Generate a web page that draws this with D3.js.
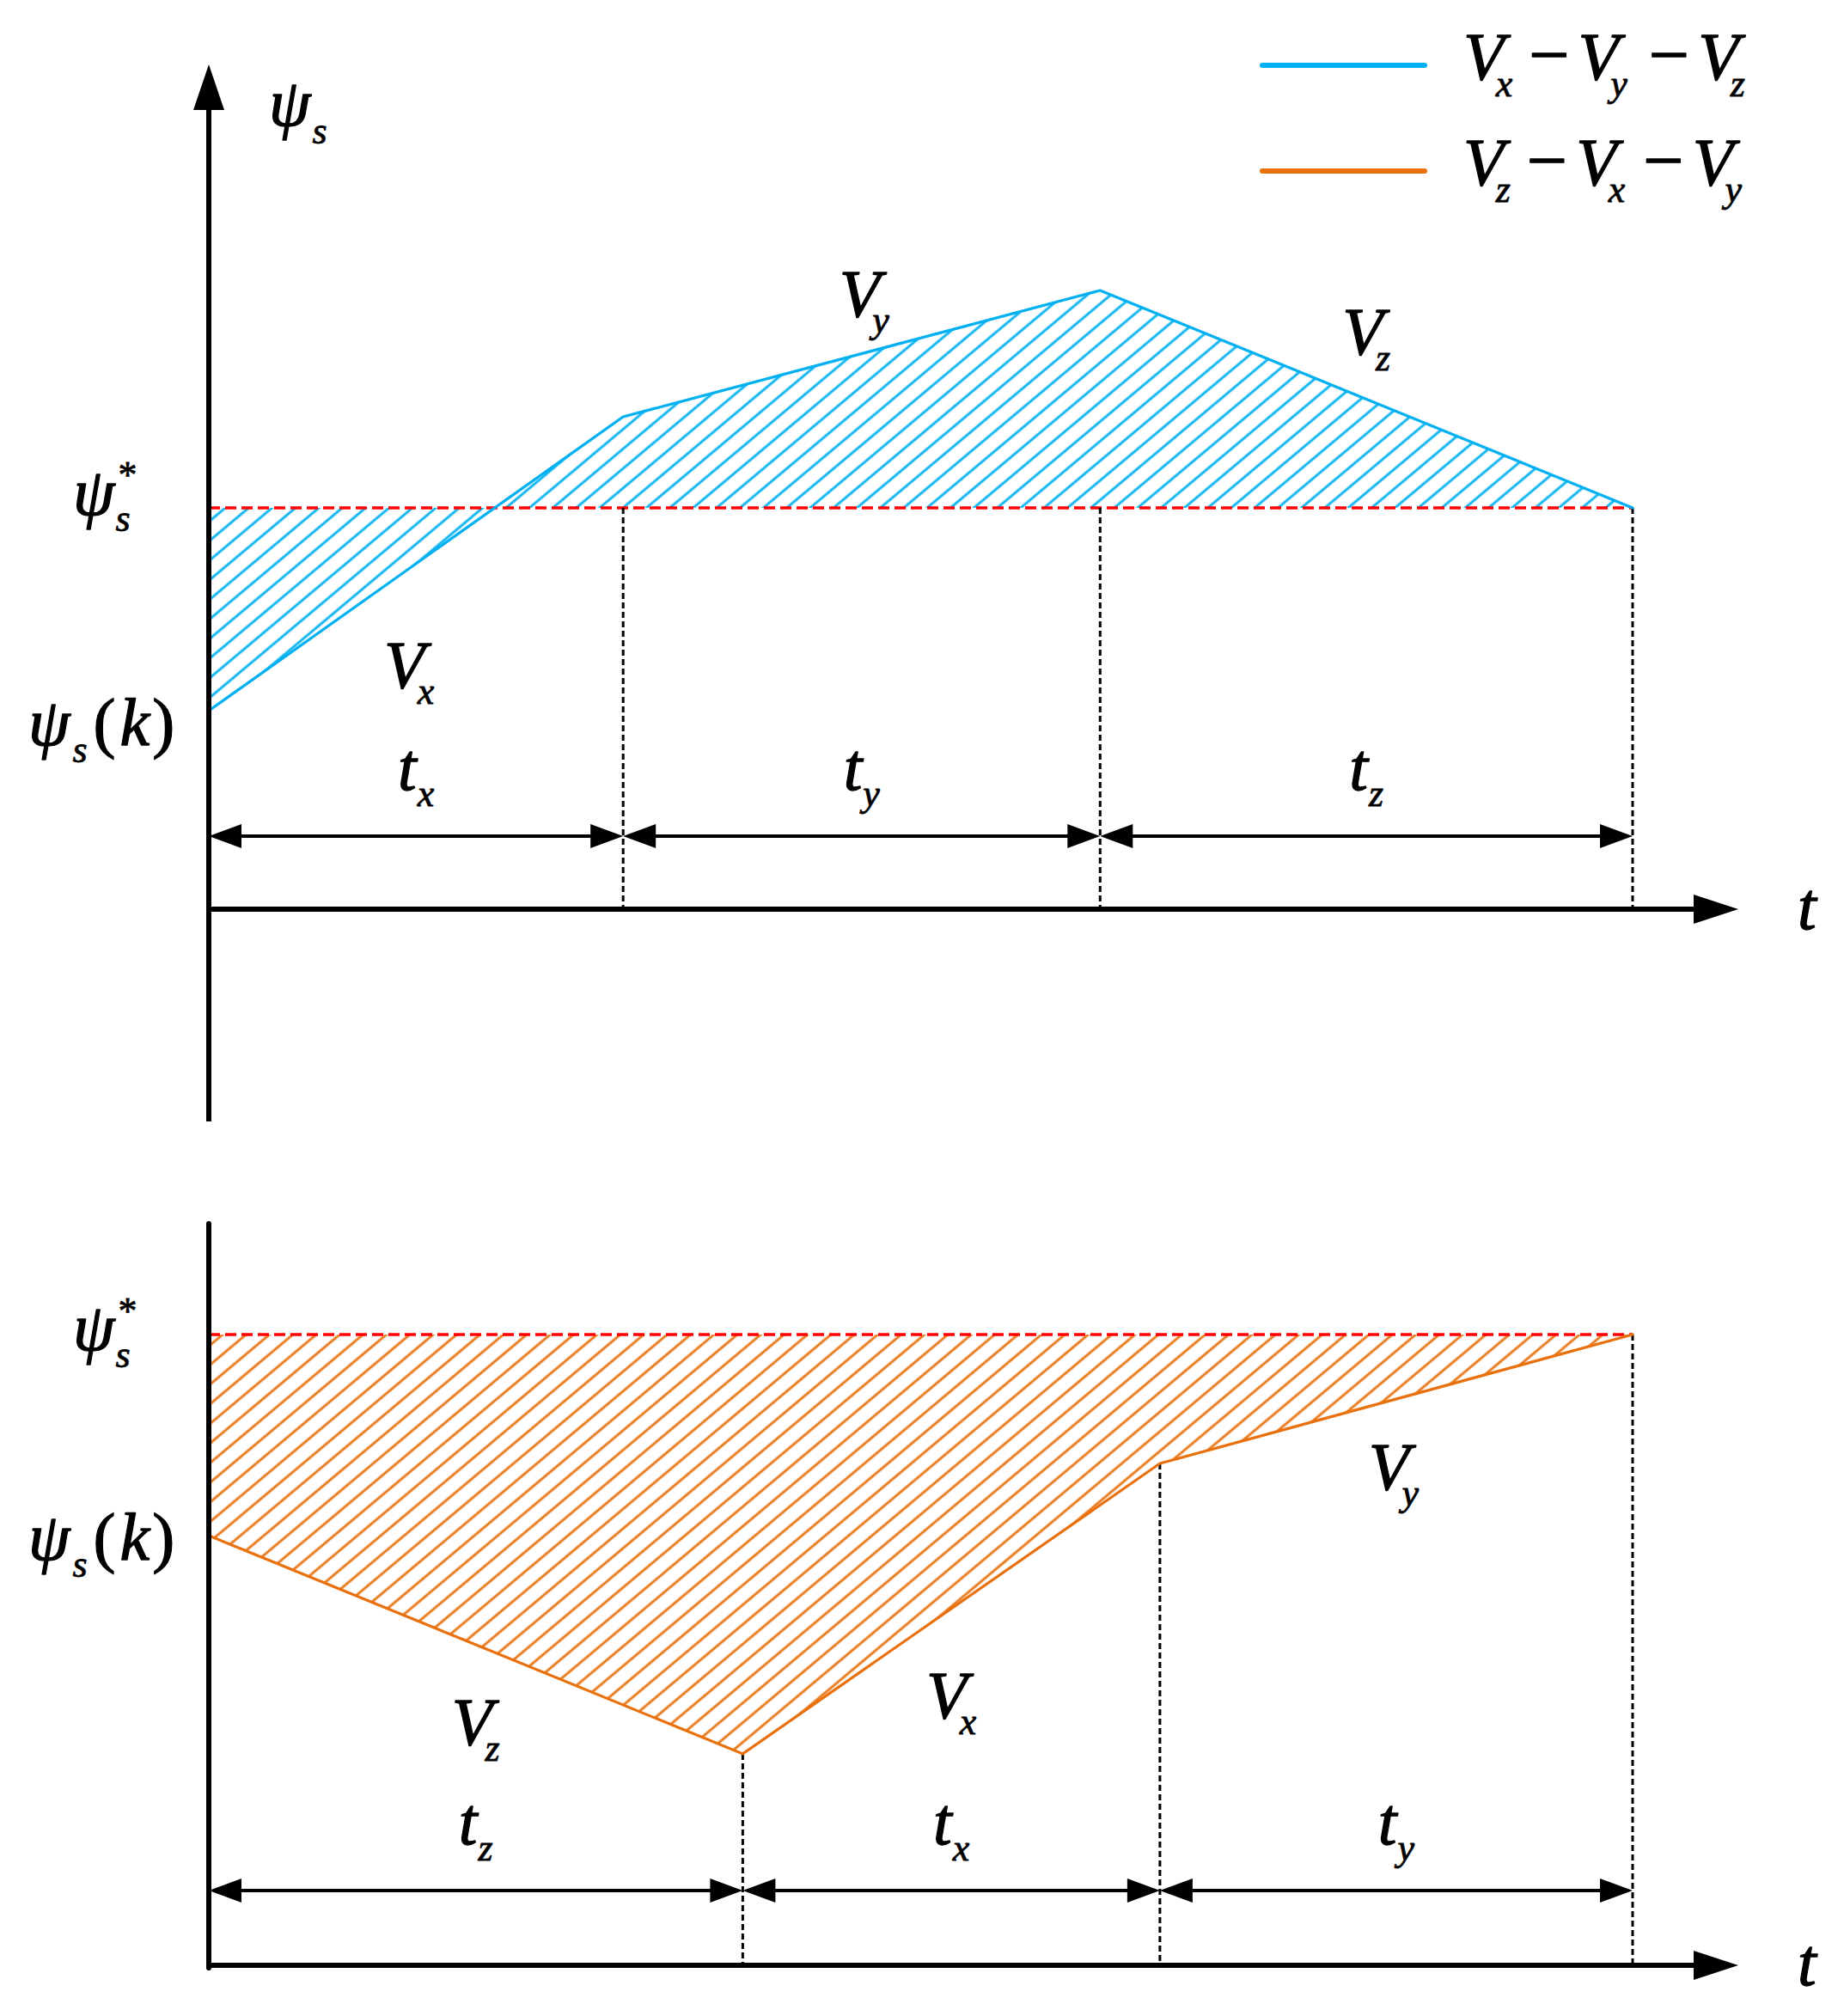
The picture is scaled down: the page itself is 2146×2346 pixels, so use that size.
<!DOCTYPE html>
<html><head><meta charset="utf-8">
<script src="https://cdn.jsdelivr.net/npm/d3@7"></script>
<style>body{margin:0;background:#fff} svg{display:block}</style>
</head><body><svg id="c" width="2146" height="2346"></svg>
<script>
// ---------------- data ----------------
const timeDomain = [0, 100];                 // one switching period, in %
const topSubs = ["x", "y", "z"];             // vector order Vx - Vy - Vz
const topBreaks = [0, 29.1, 62.6, 100];      // segment boundaries (time)
const topFlux = [0, 1.449, 2.072, 1.0];      // flux at boundaries (ψs(k)=0, ψs*=1)
const bottomSubs = ["z", "x", "y"];          // vector order Vz - Vx - Vy
const bottomBreaks = [0, 37.5, 66.8, 100];
const bottomFlux = [0, -1.085, 0.359, 1.0];
const fluxRef = 1.0;                          // ψs*
const fluxStart = 0.0;                        // ψs(k)
const seriesColors = ["#00B0F0", "#E8710E"];

// ---------------- layout ----------------
const W = 2146, H = 2346;
const FONT = '"Liberation Serif","Times New Roman",serif';
const svg = d3.select("#c");
svg.append("rect").attr("width", W).attr("height", H).attr("fill", "#fff");

const x = d3.scaleLinear().domain(timeDomain).range([243, 1900]);
const axisX = 243, arrowTipX = 2023;

const panels = [
  { subs: topSubs, breaks: topBreaks, flux: topFlux, color: seriesColors[0], id: "hb",
    yRange: [827, 591], xAxisY: 1058, arrowY: 973, yTop: 75, yArrow: true, yBottom: 1305,
    vLabelY: [800, 368, 412], vLabelDx: [-8, 3, 0],
    refBase: 599, refSub: 19, refStar: -32, startBase: 867 },
  { subs: bottomSubs, breaks: bottomBreaks, flux: bottomFlux, color: seriesColors[1], id: "ho",
    yRange: [1787, 1553], xAxisY: 2287, arrowY: 2200, yTop: 1424, yArrow: false, yBottom: 2290,
    vLabelY: [2030, 1999, 1733], vLabelDx: [0, 0, -3],
    refBase: 1571, refSub: 20, refStar: -31, startBase: 1815 }
];

// hatch patterns
const defs = svg.append("defs");
panels.forEach(p => {
  const pat = defs.append("pattern").attr("id", p.id)
    .attr("patternUnits", "userSpaceOnUse").attr("width", 40).attr("height", 17.5)
    .attr("patternTransform", "rotate(-40)");
  pat.append("line").attr("x1", -5).attr("x2", 45).attr("y1", 8.75).attr("y2", 8.75)
    .attr("stroke", p.color).attr("stroke-width", 3).attr("opacity", 0.95);
});

function mathText(g, px, py, parts, anchor) {
  const t = g.append("text").attr("x", px).attr("y", py)
    .attr("text-anchor", anchor || "start")
    .attr("font-family", FONT).attr("font-style", "italic")
    .attr("font-size", 78).attr("fill", "#000")
    .attr("stroke", "#000").attr("stroke-width", 1.3).attr("stroke-linejoin", "round");
  let cur = 0;
  parts.forEach(pt => {
    const ts = t.append("tspan").text(pt.t);
    const off = pt.off || 0;
    if (off - cur !== 0) ts.attr("dy", off - cur);
    cur = off;
    if (pt.dx) ts.attr("dx", pt.dx);
    if (pt.size) ts.attr("font-size", pt.size);
    if (pt.size && pt.size < 60) ts.attr("stroke-width", 0.8);
    if (pt.upright) ts.attr("font-style", "normal");
  });
  return t;
}

panels.forEach(p => {
  const y = d3.scaleLinear().domain([fluxStart, fluxRef]).range(p.yRange);
  const pts = p.breaks.map((b, i) => ({ t: b, v: p.flux[i] }));
  const g = svg.append("g");

  g.append("path").datum(pts)
    .attr("d", d3.area().x(d => x(d.t)).y0(y(fluxRef)).y1(d => y(d.v)))
    .attr("fill", `url(#${p.id})`);

  g.append("line").attr("x1", x(timeDomain[0])).attr("x2", x(timeDomain[1]))
    .attr("y1", y(fluxRef)).attr("y2", y(fluxRef))
    .attr("stroke", "#FF0000").attr("stroke-width", 3.5).attr("stroke-dasharray", "13,6");

  p.breaks.slice(1).forEach((b, i) => {
    const v = p.flux[i + 1];
    g.append("line").attr("x1", x(b)).attr("x2", x(b))
      .attr("y1", Math.max(y(fluxRef), y(v))).attr("y2", p.xAxisY)
      .attr("stroke", "#000").attr("stroke-width", 3).attr("stroke-dasharray", "7,4");
  });

  g.append("path").datum(pts)
    .attr("d", d3.line().x(d => x(d.t)).y(d => y(d.v)))
    .attr("fill", "none").attr("stroke", p.color).attr("stroke-width", 3.2)
    .attr("stroke-linejoin", "round").attr("stroke-linecap", "round");

  g.append("line").attr("x1", axisX).attr("x2", axisX)
    .attr("y1", p.yArrow ? p.yTop + 50 : p.yTop).attr("y2", p.yBottom)
    .attr("stroke", "#000").attr("stroke-width", 6).attr("stroke-linecap", p.yArrow ? "butt" : "round");
  if (p.yArrow) {
    g.append("path").attr("d", `M${axisX},${p.yTop} L${axisX - 18},${p.yTop + 53} L${axisX + 18},${p.yTop + 53} Z`)
      .attr("fill", "#000");
  }
  g.append("line").attr("x1", axisX - 3).attr("x2", arrowTipX - 48)
    .attr("y1", p.xAxisY).attr("y2", p.xAxisY).attr("stroke", "#000").attr("stroke-width", 6);
  g.append("path").attr("d", `M${arrowTipX},${p.xAxisY} L${arrowTipX - 52},${p.xAxisY - 17} L${arrowTipX - 52},${p.xAxisY + 17} Z`)
    .attr("fill", "#000");
  mathText(g, 2092, p.xAxisY + 23, [{ t: "t" }]);

  p.subs.forEach((s, i) => {
    const x0 = x(p.breaks[i]), x1 = x(p.breaks[i + 1]), ay = p.arrowY;
    g.append("line").attr("x1", x0 + 30).attr("x2", x1 - 30).attr("y1", ay).attr("y2", ay)
      .attr("stroke", "#000").attr("stroke-width", 4);
    g.append("path").attr("d", `M${x0},${ay} L${x0 + 38},${ay - 14} L${x0 + 38},${ay + 14} Z`).attr("fill", "#000");
    g.append("path").attr("d", `M${x1},${ay} L${x1 - 38},${ay - 14} L${x1 - 38},${ay + 14} Z`).attr("fill", "#000");
    const mid = (x0 + x1) / 2;
    mathText(g, mid, ay - 54, [{ t: "t" }, { t: s, off: 19, size: 44, dx: 1 }], "middle");
    mathText(g, mid + p.vLabelDx[i], p.vLabelY[i], [{ t: "V" }, { t: s, off: 19, size: 44, dx: -9 }], "middle");
  });

  mathText(g, 85, p.refBase, [{ t: "ψ" }, { t: "s", off: p.refSub, size: 44, dx: 1 },
    { t: "*", off: p.refStar, size: 44, dx: -14, upright: true }]);
  mathText(g, 33, p.startBase, [{ t: "ψ" }, { t: "s", off: 20, size: 44, dx: 3 },
    { t: "(", off: 0, upright: true, dx: 7 }, { t: "k", dx: 5 }, { t: ")", upright: true, dx: 3 }]);
});

mathText(svg, 313, 146, [{ t: "ψ" }, { t: "s", off: 21, size: 44, dx: 2 }]);

const legend = svg.append("g");
[topSubs, bottomSubs].forEach((seq, i) => {
  const ly = [76, 199][i];
  legend.append("line").attr("x1", 1469).attr("x2", 1658).attr("y1", ly).attr("y2", ly)
    .attr("stroke", seriesColors[i]).attr("stroke-width", 6).attr("stroke-linecap", "round");
  const parts = [];
  seq.forEach((s, k) => {
    if (k > 0) parts.push({ t: "\u2212", off: 0, size: 84, upright: true,
                            dx: k === 1 ? 19 : (i === 0 ? 25 : 21) });
    parts.push({ t: "V", off: 0, dx: k > 0 ? 10 : 0 });
    parts.push({ t: s, off: 20, size: 44, dx: -10 });
  });
  mathText(legend, 1703, [92, 215][i], parts);
});
</script></body></html>
